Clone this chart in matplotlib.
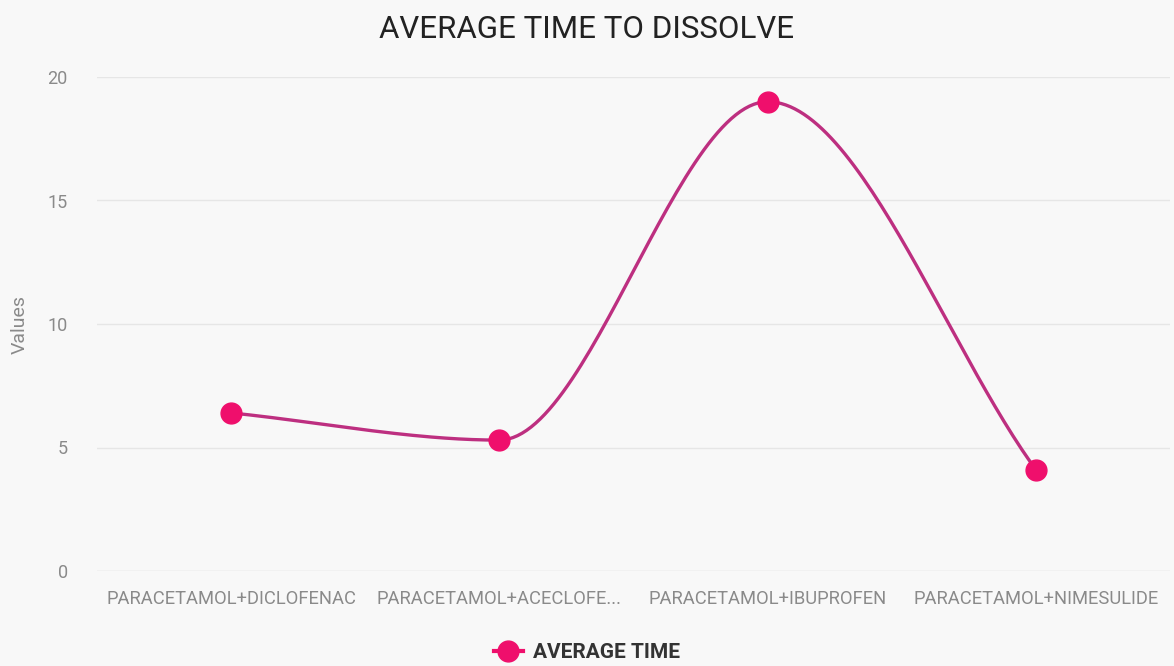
import numpy as np
import matplotlib
matplotlib.use("Agg")
import matplotlib.pyplot as plt
from matplotlib.lines import Line2D

categories = ["PARACETAMOL+DICLOFENAC", "PARACETAMOL+ACECLOFE...",
              "PARACETAMOL+IBUPROFEN", "PARACETAMOL+NIMESULIDE"]
average_time = [6.4, 5.3, 19.0, 4.1]
y_ticks = [0, 5, 10, 15, 20]

plt.rcParams["font.family"] = ["Roboto", "DejaVu Sans"]

LINE_COLOR = "#bd2f80"
MARKER_COLOR = "#ef0f6c"
BG = "#f8f8f8"


def monotone_curve(x, y, n=60):
    """Fritsch-Carlson monotone cubic interpolation."""
    x = np.asarray(x, float)
    y = np.asarray(y, float)
    h = np.diff(x)
    d = np.diff(y) / h
    m = np.zeros_like(y)
    m[0], m[-1] = d[0], d[-1]
    for i in range(1, len(y) - 1):
        if d[i - 1] * d[i] <= 0:
            m[i] = 0.0
        else:
            w1 = 2 * h[i] + h[i - 1]
            w2 = h[i] + 2 * h[i - 1]
            m[i] = (w1 + w2) / (w1 / d[i - 1] + w2 / d[i])
    xs, ys = [], []
    for i in range(len(x) - 1):
        t = np.linspace(0, 1, n)
        h00 = 2 * t**3 - 3 * t**2 + 1
        h10 = t**3 - 2 * t**2 + t
        h01 = -2 * t**3 + 3 * t**2
        h11 = t**3 - t**2
        xs.append(x[i] + t * h[i])
        ys.append(h00 * y[i] + h10 * h[i] * m[i] + h01 * y[i + 1] + h11 * h[i] * m[i + 1])
    return np.concatenate(xs), np.concatenate(ys)


fig = plt.figure(figsize=(11.74, 6.66), dpi=100, facecolor=BG)
ax = fig.add_axes([97 / 1174, 1 - 571 / 666, (1170 - 97) / 1174, (571 - 77) / 666])
ax.set_facecolor(BG)

xpos = np.arange(len(categories))
cx, cy = monotone_curve(xpos, average_time)
ax.plot(cx, cy, color=LINE_COLOR, lw=2.4, solid_capstyle="round", zorder=3)
ax.plot(xpos, average_time, "o", color=MARKER_COLOR, ms=15, mec=MARKER_COLOR, zorder=4)

ax.set_xlim(-0.5, len(categories) - 0.5)
ax.set_ylim(0, 20)
ax.set_yticks(y_ticks)
ax.set_yticklabels([str(v) for v in y_ticks])
ax.set_xticks(xpos)
ax.set_xticklabels(categories)
ax.tick_params(axis="both", length=0, colors="#8a8a8a")
ax.tick_params(axis="y", pad=21, labelsize=13)
ax.tick_params(axis="x", pad=14, labelsize=13.2)

for v in y_ticks:
    ax.axhline(v, color="#e6e6e6" if v else "#d6d6d6", lw=1.0, zorder=1)
for s in ax.spines.values():
    s.set_visible(False)

ax.set_ylabel("Values", color="#8a8a8a", fontsize=14)
ax.yaxis.set_label_coords(-0.0634, 0.5)

fig.text(0.5, 1 - 29 / 666, "AVERAGE TIME TO DISSOLVE", ha="center", va="center",
         fontsize=22.5, color="#222222")

handle = Line2D([0], [0], color=MARKER_COLOR, lw=3, marker="o", ms=15,
                mfc=MARKER_COLOR, mec=MARKER_COLOR)
leg = fig.legend([handle], ["AVERAGE TIME"], loc="center",
                 bbox_to_anchor=(0.5, 1 - 653 / 666), frameon=False,
                 handlelength=1.4, handletextpad=0.5,
                 prop={"weight": "bold", "size": 15})
for t in leg.get_texts():
    t.set_color("#333333")

fig.savefig("out.png", dpi=100, facecolor=BG)
